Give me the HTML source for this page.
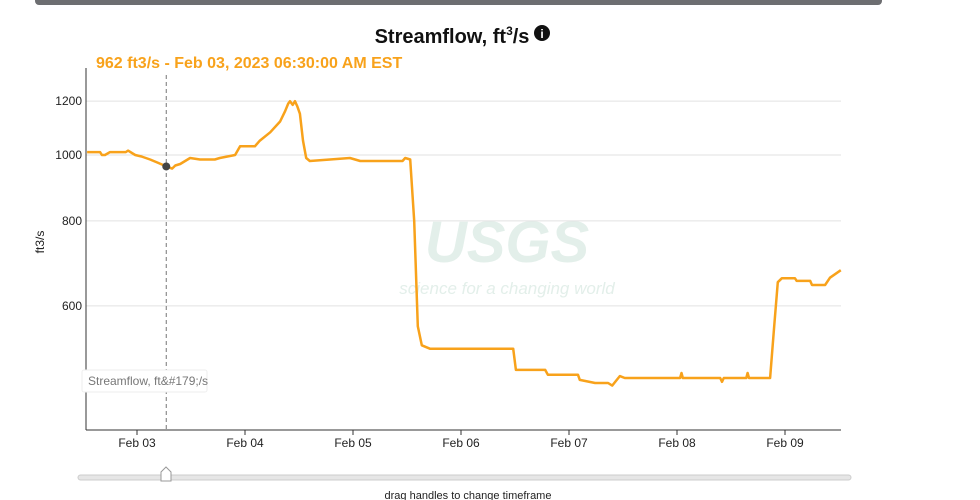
<!DOCTYPE html>
<html><head><meta charset="utf-8"><style>
body{margin:0;background:#fff;font-family:"Liberation Sans",sans-serif;}
</style></head><body>
<div style="position:absolute;left:35px;top:0;width:847px;height:5px;background:#6d6e71;border-radius:0 0 4px 4px"></div>
<svg id="chart" width="980" height="500" style="position:absolute;left:0;top:0"></svg>
<script>
const hours=[-11.1,-8.2,-7.8,-7.1,-6,-2.5,-2,-0.4,1,2.9,4.5,6.5,7.8,8.5,9.6,11.8,14,17.3,18.4,21.8,22.9,26.2,27.3,29.6,31.8,32.9,33.6,34,34.6,35.1,35.6,36.2,36.9,37.6,38.4,42.9,47.3,49.6,59,59.6,60.7,61.6,62.4,63.3,65.1,83.6,84.2,90.7,91.3,98,98.4,101.8,104.7,105.6,107.3,108.4,120.7,121,121.3,129.6,130,130.4,135.4,135.7,136,140.7,141.6,142.4,143.3,146.2,146.6,149.6,150,152.9,154,156.4];
const flows=[1010,1010,1000,1000,1010,1010,1015,1000,995,985,975,962,955,965,970,990,985,985,990,1000,1030,1030,1050,1080,1120,1160,1190,1200,1185,1200,1180,1150,1050,990,980,985,990,980,980,990,985,800,560,525,519,519,483,483,475,475,467,462,462,458,473,470,470,478,470,470,464,470,470,478,470,470,560,650,659,659,653,653,644,644,660,677];
const yTicks=[600,800,1000,1200];
const xTicks=["Feb 03","Feb 04","Feb 05","Feb 06","Feb 07","Feb 08","Feb 09"];
const svg=document.getElementById('chart');const NS='http://www.w3.org/2000/svg';
const L=86,R=841,T=68,B=430;
const x=h=>137+h/24*108;
const y=v=>155-680*(Math.log10(v)-3);
function mk(tag,attrs,parent){const e=document.createElementNS(NS,tag);for(const k in attrs)e.setAttribute(k,attrs[k]);(parent||svg).appendChild(e);return e;}
let t=mk('text',{x:452,y:43,'text-anchor':'middle','font-size':20,'font-weight':'bold',fill:'#111'});t.innerHTML='Streamflow, ft<tspan font-size="12" dy="-8">3</tspan><tspan dy="8">/s</tspan>';

let ic=mk('circle',{cx:542,cy:33,r:8,fill:'#111'});
let it=mk('text',{x:542,y:38,'text-anchor':'middle','font-size':12,'font-weight':'bold',fill:'#fff'});it.textContent='i';
let tt=mk('text',{x:96,y:68,'font-size':16,'font-weight':'bold',fill:'#f8a21b'});tt.textContent='962 ft3/s - Feb 03, 2023 06:30:00 AM EST';

let wm=mk('text',{x:507,y:262,'text-anchor':'middle','font-size':58,'font-weight':'bold',fill:'#e3efea','font-style':'italic'});wm.textContent='USGS';

let wm2=mk('text',{x:507,y:294,'text-anchor':'middle','font-size':17,'font-style':'italic',fill:'#e3efea'});wm2.textContent='science for a changing world';
yTicks.forEach(v=>{const g=mk('line',{x1:L,x2:R,y1:y(v),y2:y(v),stroke:'#e2e2e2'});
const l=mk('text',{x:L-4,y:y(v)+4,'text-anchor':'end','font-size':12,fill:'#222'});l.textContent=v;});
let ya=mk('text',{transform:'translate(44,242) rotate(-90)','text-anchor':'middle','font-size':12,fill:'#222'});ya.textContent='ft3/s';
mk('line',{x1:L,x2:L,y1:T,y2:B,stroke:'#333'});
mk('line',{x1:L,x2:R,y1:B,y2:B,stroke:'#333'});
xTicks.forEach((s,i)=>{const xx=x(i*24);mk('line',{x1:xx,x2:xx,y1:B,y2:B+5,stroke:'#333'});
const l=mk('text',{x:xx,y:B+17,'text-anchor':'middle','font-size':12,fill:'#222'});l.textContent=s;});
let d='';hours.forEach((h,i)=>{d+=(i?'L':'M')+x(h).toFixed(1)+','+y(flows[i]).toFixed(1);});
let p=mk('path',{d:d,fill:'none',stroke:'#f8a21b','stroke-width':2.5,'stroke-linejoin':'round'});
let cl=mk('line',{x1:x(6.5),x2:x(6.5),y1:75,y2:B,stroke:'#777','stroke-dasharray':'4,3'});
let dot=mk('circle',{cx:x(6.5),cy:y(962),r:4,fill:'#444'});
let lb=mk('rect',{x:82,y:370,width:125,height:22,fill:'#fff',stroke:'#eee',rx:2});
let lt=mk('text',{x:88,y:385,'font-size':12,fill:'#777'});lt.textContent='Streamflow, ft&#179;/s';
let tr=mk('rect',{x:78,y:475,width:773,height:5,rx:2.5,fill:'#e6e6e6',stroke:'#ccc'});
let hd=mk('path',{d:'M161,481 L161,472 L166,467 L171,472 L171,481 Z',fill:'#fff',stroke:'#999'});
let st=mk('text',{x:468,y:499,'text-anchor':'middle','font-size':11,fill:'#222'});st.textContent='drag handles to change timeframe';
</script>
</body></html>
